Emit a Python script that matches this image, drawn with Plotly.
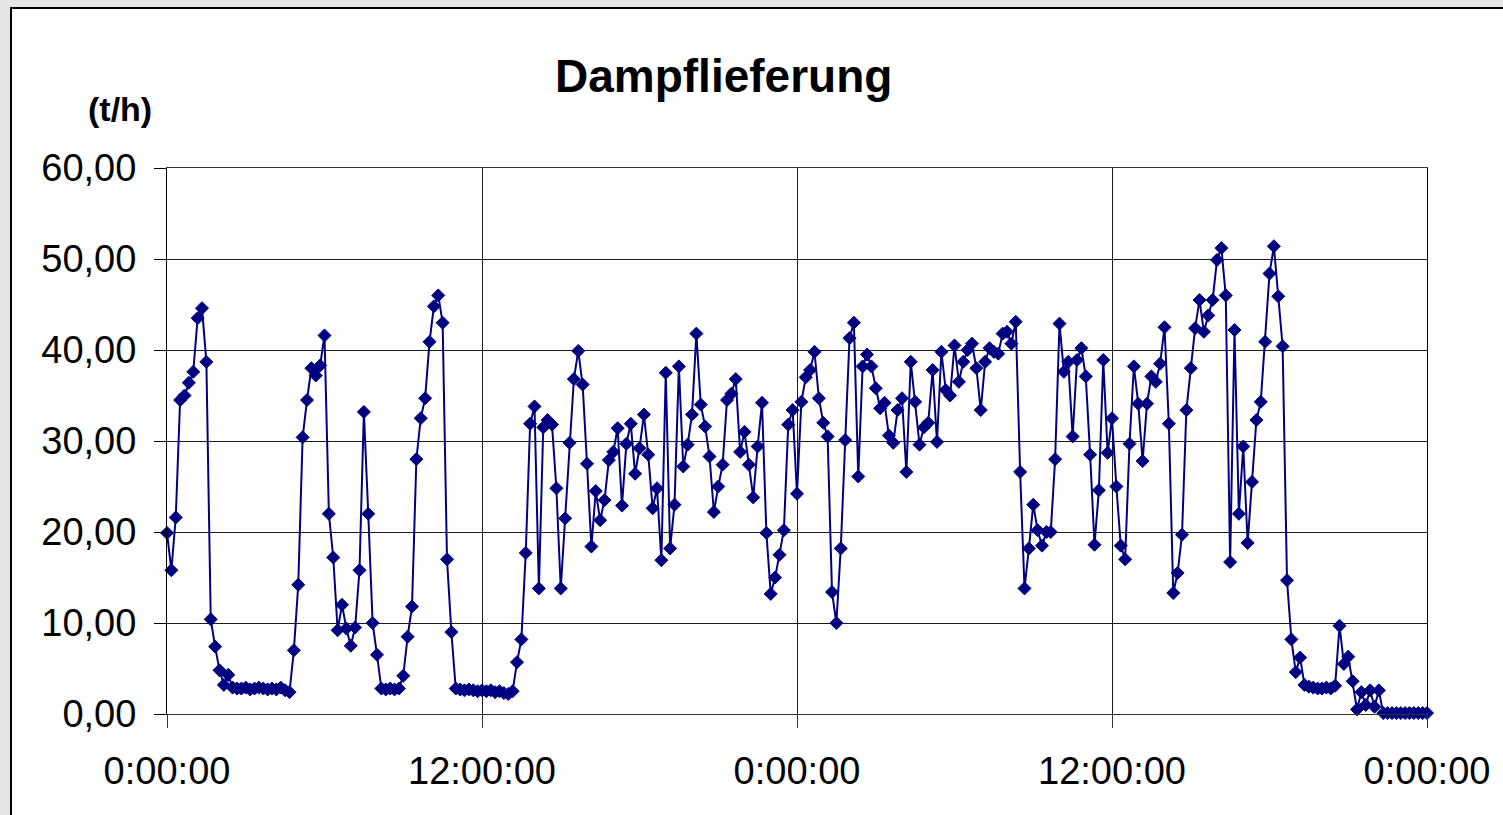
import plotly.graph_objects as go

# ---- data (t/h), one value every 10 minutes over 48 hours ----
sample_step_minutes = 10
steam_t_per_h = [
    19.9, 15.8, 21.6, 34.5, 35.0, 36.4,   # 0 h
    37.6, 43.5, 44.6, 38.7, 10.4, 7.4,    # 1 h
    4.8, 3.2, 4.3, 2.9, 2.8, 2.8,         # 2 h
    2.9, 2.7, 2.8, 2.9, 2.8, 2.7,         # 3 h
    2.8, 2.7, 2.9, 2.6, 2.4, 7.0,         # 4 h
    14.2, 30.4, 34.5, 38.0, 37.2, 38.3,   # 5 h
    41.6, 22.0, 17.2, 9.2, 12.0, 9.4,     # 6 h
    7.5, 9.5, 15.8, 33.2, 22.0, 10.0,     # 7 h
    6.5, 2.8, 2.7, 2.8, 2.7, 2.8,         # 8 h
    4.2, 8.5, 11.8, 28.0, 32.5, 34.7,     # 9 h
    40.9, 44.8, 46.0, 43.0, 17.0, 9.0,    # 10 h
    2.8, 2.7, 2.6, 2.7, 2.6, 2.5,         # 11 h
    2.6, 2.5, 2.6, 2.4, 2.5, 2.3,         # 12 h
    2.2, 2.5, 5.7, 8.2, 17.7, 31.9,       # 13 h
    33.8, 13.8, 31.5, 32.3, 31.8, 24.8,   # 14 h
    13.8, 21.5, 29.8, 36.8, 39.9, 36.2,   # 15 h
    27.5, 18.4, 24.5, 21.3, 23.5, 27.9,   # 16 h
    28.8, 31.4, 22.9, 29.7, 31.9, 26.4,   # 17 h
    29.2, 32.9, 28.5, 22.6, 24.8, 16.9,   # 18 h
    37.5, 18.2, 23.0, 38.2, 27.2, 29.6,   # 19 h
    32.9, 41.8, 34.0, 31.6, 28.3, 22.2,   # 20 h
    25.0, 27.4, 34.5, 35.2, 36.8, 28.8,   # 21 h
    31.0, 27.4, 23.8, 29.4, 34.2, 19.9,   # 22 h
    13.2, 15.0, 17.5, 20.2, 31.8, 33.4,   # 23 h
    24.2, 34.3, 37.0, 37.8, 39.8, 34.7,   # 24 h
    32.0, 30.5, 13.4, 10.0, 18.2, 30.1,   # 25 h
    41.3, 43.0, 26.1, 38.2, 39.5, 38.2,   # 26 h
    35.8, 33.6, 34.2, 30.6, 29.8, 33.4,   # 27 h
    34.7, 26.6, 38.7, 34.3, 29.6, 31.5,   # 28 h
    32.0, 37.8, 29.9, 39.8, 35.6, 35.0,   # 29 h
    40.5, 36.5, 38.7, 40.0, 40.7, 38.0,   # 30 h
    33.4, 38.7, 40.2, 39.8, 39.6, 41.8,   # 31 h
    42.0, 40.7, 43.1, 26.6, 13.8, 18.2,   # 32 h
    23.0, 20.2, 18.5, 20.0, 20.0, 28.0,   # 33 h
    42.9, 37.6, 38.7, 30.5, 38.9, 40.2,   # 34 h
    37.1, 28.5, 18.6, 24.6, 38.9, 28.7,   # 35 h
    32.5, 25.0, 18.5, 17.0, 29.7, 38.2,   # 36 h
    34.1, 27.8, 34.1, 37.1, 36.5, 38.5,   # 37 h
    42.5, 31.9, 13.3, 15.5, 19.7, 33.4,   # 38 h
    38.0, 42.4, 45.5, 42.0, 43.8, 45.5,   # 39 h
    49.9, 51.2, 46.0, 16.7, 42.2, 22.0,   # 40 h
    29.4, 18.8, 25.5, 32.3, 34.3, 40.9,   # 41 h
    48.4, 51.4, 45.9, 40.4, 14.7, 8.2,    # 42 h
    4.6, 6.2, 3.2, 3.0, 2.9, 2.8,         # 43 h
    2.8, 2.9, 2.8, 3.1, 9.7, 5.5,         # 44 h
    6.3, 3.6, 0.5, 2.4, 1.0, 2.6,         # 45 h
    0.8, 2.6, 0.1, 0.1, 0.1, 0.1,         # 46 h
    0.1, 0.1, 0.1, 0.1, 0.1, 0.1,         # 47 h
    0.1,                                  # 48 h
]

x_tick_hours = [0, 12, 24, 36, 48]
x_tick_labels = ["0:00:00", "12:00:00", "0:00:00", "12:00:00", "0:00:00"]
y_tick_vals = [0, 10, 20, 30, 40, 50, 60]
y_tick_labels = ["0,00", "10,00", "20,00", "30,00", "40,00", "50,00", "60,00"]

title_text = "Dampflieferung"
unit_text = "(t/h)"

# ---- figure ----
hours = [i * sample_step_minutes / 60 for i in range(len(steam_t_per_h))]

FONT = "Liberation Sans, Arial, sans-serif"
NAVY = "#000080"
BG = "#e3e4e6"

fig = go.Figure()
fig.add_trace(go.Scatter(
    x=hours, y=steam_t_per_h, mode="lines+markers",
    line=dict(color=NAVY, width=2),
    marker=dict(symbol="diamond", size=10, color=NAVY, line=dict(color=NAVY, width=1)),
    cliponaxis=False, showlegend=False,
))

W, H = 1503, 815
L, R, T, B = 167, 1427, 168, 714

def px_x(px):
    return (px - L) / (R - L)

def px_y(py):
    return (B - py) / (B - T)

fig.update_layout(
    width=W, height=H,
    margin=dict(l=L, r=W - R, t=T, b=H - B, pad=0),
    paper_bgcolor=BG,
    plot_bgcolor="white",
    font=dict(family=FONT, color="black"),
    shapes=[dict(
        type="rect", xref="paper", yref="paper", layer="below",
        x0=px_x(11), x1=px_x(W + 20), y0=px_y(H + 20), y1=px_y(8),
        fillcolor="white", line=dict(color="black", width=2),
    )],
    annotations=[
        dict(text="<b>%s</b>" % title_text, xref="paper", yref="paper",
             x=px_x(723), y=px_y(76), xanchor="center", yanchor="middle",
             showarrow=False, font=dict(family=FONT, size=46, color="black")),
        dict(text="<b>%s</b>" % unit_text, xref="paper", yref="paper",
             x=px_x(120), y=px_y(109), xanchor="center", yanchor="middle",
             showarrow=False, font=dict(family=FONT, size=34, color="black")),
    ],
)

fig.update_xaxes(
    range=[0, 48], tickmode="array", tickvals=x_tick_hours, ticktext=x_tick_labels,
    showgrid=True, gridcolor="#1a1a1a", gridwidth=1, zeroline=False,
    showline=True, linecolor="#333333", linewidth=1, mirror=True,
    ticks="outside", ticklen=13, tickcolor="#333333", tickwidth=1,
    tickfont=dict(family=FONT, size=38, color="black"), ticklabelstandoff=10,
)
fig.update_yaxes(
    range=[0, 60], tickmode="array", tickvals=y_tick_vals, ticktext=y_tick_labels,
    showgrid=True, gridcolor="#1a1a1a", gridwidth=1, zeroline=False,
    showline=True, linecolor="black", linewidth=1, mirror=True,
    ticks="outside", ticklen=12, tickcolor="black", tickwidth=1,
    tickfont=dict(family=FONT, size=38, color="black"), ticklabelstandoff=10,
)

fig.write_html(
    "out.html",
    config={"displayModeBar": False},
    post_script="document.body.style.margin='0';document.body.style.background='%s';" % BG,
)
